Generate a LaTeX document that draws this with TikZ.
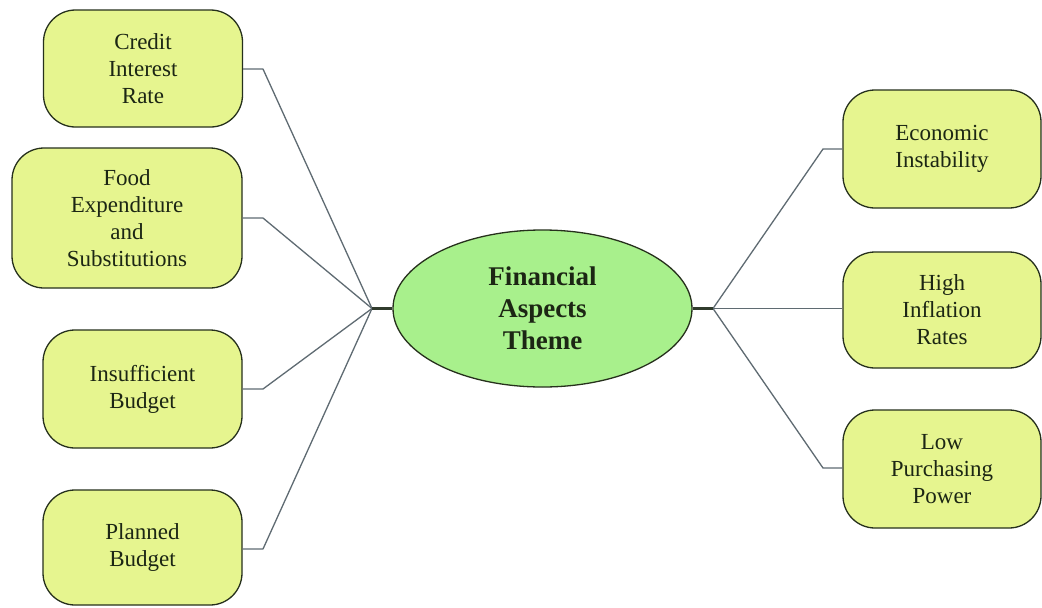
\documentclass[tikz,border=0pt]{standalone}
\usepackage{fontspec}
\setmainfont{Liberation Serif}
\definecolor{boxfill}{HTML}{E6F58F}
\definecolor{ellfill}{HTML}{A8F08C}
\definecolor{edge}{HTML}{26301C}
\definecolor{wire}{HTML}{5F6B72}
\definecolor{txt}{HTML}{1C2614}
\usetikzlibrary{shapes.geometric}
\tikzset{
  leaf/.style={draw=edge, line width=1.3pt, fill=boxfill, rounded corners=32pt,
    align=center, text=txt, font=\fontsize{23}{27}\selectfont, inner sep=0pt},
  hub/.style={draw=edge, line width=1.3pt, fill=ellfill, ellipse, align=center, text=txt,
    font=\fontsize{27}{32}\selectfont\bfseries, inner sep=0pt,
    minimum width=299pt, minimum height=157pt},
  wireline/.style={draw=wire, line width=1.3pt, line join=round},
  stem/.style={draw=edge!80!wire, line width=2.2pt}
}
\begin{document}
\begin{tikzpicture}[x=1pt,y=-1pt]
\useasboundingbox (0,0) rectangle (1042,608);
\fill[white] (0,0) rectangle (1042,608);
% left leaves
\node[leaf, minimum width=199pt, minimum height=117pt] (credit) at (143,68.5) {Credit\\Interest\\Rate};
\node[leaf, minimum width=230pt, minimum height=140pt] (food) at (127,218) {Food\\Expenditure\\and\\Substitutions};
\node[leaf, minimum width=199pt, minimum height=118pt] (insuf) at (142.5,389) {Insufficient\\Budget};
\node[leaf, minimum width=199pt, minimum height=115pt] (plan) at (142.5,547.5) {Planned\\Budget};
% right leaves
\node[leaf, minimum width=198pt, minimum height=118pt] (econ) at (942,149) {Economic\\Instability};
\node[leaf, minimum width=198pt, minimum height=116pt] (high) at (942,310) {High\\Inflation\\Rates};
\node[leaf, minimum width=198pt, minimum height=118pt] (low) at (942,469) {Low\\Purchasing\\Power};
% hub
\node[hub] (hub) at (542.5,308.5) {Financial\\Aspects\\Theme};
% junctions
\coordinate (jl) at (372,308.5);
\coordinate (jr) at (713,308.5);
\coordinate (bl1) at (263,69);
\coordinate (bl2) at (263,218);
\coordinate (bl3) at (263,389);
\coordinate (bl4) at (263,549);
\coordinate (br1) at (823,149);
\coordinate (br3) at (823,468);
% connectors
\draw[wireline] (credit.east |- bl1) -- (bl1) -- (jl);
\draw[wireline] (food.east |- bl2) -- (bl2) -- (jl);
\draw[wireline] (insuf.east |- bl3) -- (bl3) -- (jl);
\draw[wireline] (plan.east |- bl4) -- (bl4) -- (jl);
\draw[wireline] (econ.west |- br1) -- (br1) -- (jr);
\draw[wireline] (high.west |- jr) -- (jr);
\draw[wireline] (low.west |- br3) -- (br3) -- (jr);
\draw[stem] (jl) -- (hub.west);
\draw[stem] (hub.east) -- (jr);
\end{tikzpicture}
\end{document}
